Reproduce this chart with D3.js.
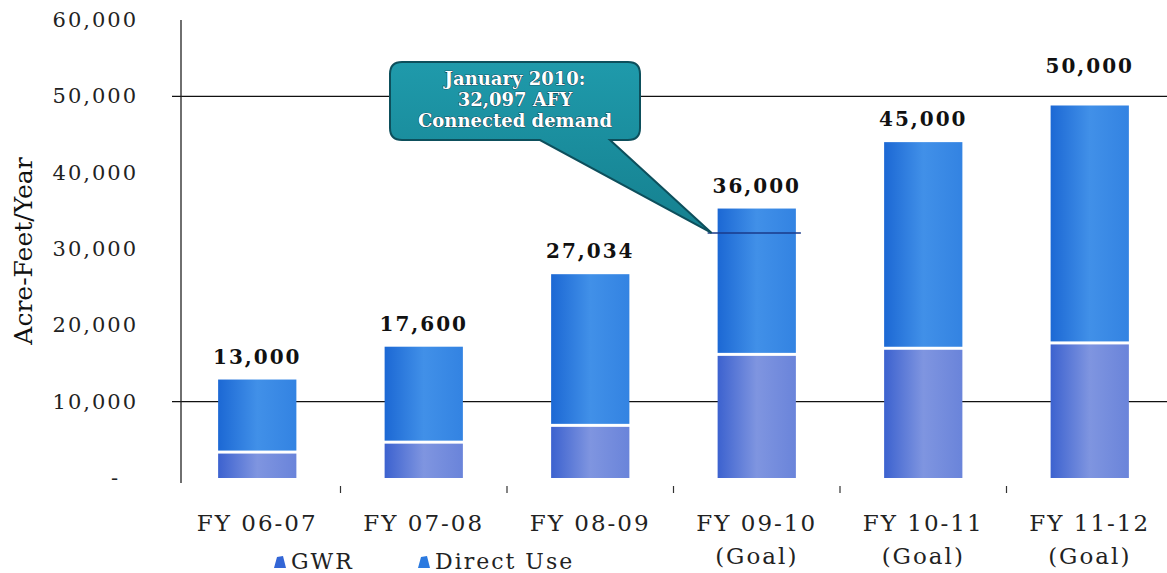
<!DOCTYPE html>
<html><head><meta charset="utf-8">
<script src="https://cdn.jsdelivr.net/npm/d3@7"></script>
<style>
html,body{margin:0;padding:0;background:#fff;}
svg{display:block;}
text{font-family:"DejaVu Serif","Liberation Serif",serif;}
</style></head>
<body><svg id="c" width="1167" height="573"></svg>
<script>
const categories = ["FY 06-07","FY 07-08","FY 08-09","FY 09-10","FY 10-11","FY 11-12"];
const subLabels = ["","","","(Goal)","(Goal)","(Goal)"];
const gwr = [3200, 4500, 6700, 16000, 16800, 17500];
const directUse = [9700, 12700, 20000, 19300, 27200, 31300];
const totalLabels = ["13,000","17,600","27,034","36,000","45,000","50,000"];
const yTicks = [0, 10000, 20000, 30000, 40000, 50000, 60000];
const yTickLabels = ["-","10,000","20,000","30,000","40,000","50,000","60,000"];
const gridValues = [10000, 50000];
const seriesNames = ["GWR","Direct Use"];
const calloutValue = 32097;
const calloutLines = ["January 2010:","32,097 AFY","Connected demand"];

const svg = d3.select("#c");
const x = d3.scaleBand().domain(categories).range([174,1173]).paddingInner(0.53).paddingOuter(0.265);
const y = d3.scaleLinear().domain([0,60000]).range([478,20]);

const defs = svg.append("defs");
function grad(id, stops){
  const g = defs.append("linearGradient").attr("id",id).attr("x1","0").attr("x2","1").attr("y1","0").attr("y2","0");
  stops.forEach(s=>g.append("stop").attr("offset",s[0]).attr("stop-color",s[1]));
}
grad("gDU",[[0,"#1c68d4"],[0.5,"#4190e8"],[1,"#3383e2"]]);
grad("gGWR",[[0,"#3c62cf"],[0.5,"#7f95e0"],[1,"#6a84da"]]);
const cg = defs.append("linearGradient").attr("id","gCall").attr("x1","0").attr("x2","0").attr("y1","0").attr("y2","1");
cg.append("stop").attr("offset",0).attr("stop-color","#1f9aab");
cg.append("stop").attr("offset",1).attr("stop-color","#15808f");

// gridlines
svg.selectAll(".grid").data(gridValues).enter().append("line")
  .attr("x1",172).attr("x2",1167).attr("y1",d=>y(d)).attr("y2",d=>y(d))
  .attr("stroke","#111").attr("stroke-width",1.4);

// y axis line
svg.append("line").attr("x1",181).attr("x2",181).attr("y1",y(60000)).attr("y2",y(0)+5)
  .attr("stroke","#222").attr("stroke-width",1.3);

// y tick labels
svg.selectAll(".yt").data(yTicks).enter().append("text")
  .attr("x",d=>d===0?120:138).attr("y",d=>y(d)+7).attr("text-anchor","end")
  .attr("font-size",21).attr("fill","#222").attr("letter-spacing","2")
  .text((d,i)=>yTickLabels[i]);

// y label
svg.append("text").attr("transform","translate(32,"+(y(30000)+2)+") rotate(-90)")
  .attr("text-anchor","middle").attr("font-size",25).attr("fill","#111")
  .text("Acre-Feet/Year");

// bars
const bw = x.bandwidth();
svg.selectAll(".gwr").data(categories).enter().append("rect")
  .attr("x",d=>x(d)).attr("width",bw)
  .attr("y",(d,i)=>y(gwr[i])).attr("height",(d,i)=>y(0)-y(gwr[i]))
  .attr("fill","url(#gGWR)");
svg.selectAll(".du").data(categories).enter().append("rect")
  .attr("x",d=>x(d)).attr("width",bw)
  .attr("y",(d,i)=>y(gwr[i]+directUse[i]))
  .attr("height",(d,i)=>y(gwr[i])-y(gwr[i]+directUse[i])-3)
  .attr("fill","url(#gDU)");

// total labels (moved above a gridline if they would sit on it)
function labelY(i){
  let ly = y(gwr[i]+directUse[i]) - 16;
  gridValues.forEach(g=>{ const gy=y(g); if (ly > gy-18 && ly < gy+14) ly = gy - 23; });
  return ly;
}
svg.selectAll(".tl").data(categories).enter().append("text")
  .attr("x",d=>x(d)+bw/2).attr("y",(d,i)=>labelY(i))
  .attr("text-anchor","middle").attr("font-size",20).attr("font-weight","bold")
  .attr("letter-spacing","2").attr("fill","#111")
  .text((d,i)=>totalLabels[i]);

// category ticks between bars
const step = x.step();
svg.selectAll(".ct").data(categories.slice(1)).enter().append("line")
  .attr("x1",d=>x(d)-(step-bw)/2).attr("x2",d=>x(d)-(step-bw)/2)
  .attr("y1",y(0)+8).attr("y2",y(0)+15).attr("stroke","#333").attr("stroke-width",1.2);

// category labels
svg.selectAll(".cl").data(categories).enter().append("text")
  .attr("x",d=>x(d)+bw/2).attr("y",531).attr("text-anchor","middle")
  .attr("font-size",23).attr("fill","#222").attr("letter-spacing","2").text(d=>d);
svg.selectAll(".cl2").data(categories).enter().append("text")
  .attr("x",d=>x(d)+bw/2).attr("y",564).attr("text-anchor","middle")
  .attr("font-size",23).attr("fill","#222").attr("letter-spacing","2")
  .text((d,i)=>subLabels[i]);

// legend
const legX = [274, 418];
seriesNames.forEach((n,i)=>{
  svg.append("path")
    .attr("d",`M${legX[i]},${568} L${legX[i]+3},${557} L${legX[i]+9},${556} L${legX[i]+12},${568} Z`)
    .attr("fill",i===0?"#3366d6":"#2b7ae0");
  svg.append("text").attr("x",legX[i]+17).attr("y",569).attr("font-size",22)
    .attr("fill","#222").attr("letter-spacing","2").text(n);
});

// callout marker line
const cat4 = categories[3];
svg.append("line").attr("x1",x(cat4)-10).attr("x2",x(cat4)+bw+5)
  .attr("y1",y(calloutValue)).attr("y2",y(calloutValue))
  .attr("stroke","#1a3a8a").attr("stroke-width",1.5);

// callout
const cx0=390, cy0=62, cw=250, ch=78;
const tipX = x(cat4)-6, tipY = y(calloutValue);
svg.append("path")
  .attr("d",`M${cx0+12},${cy0} H${cx0+cw-12} Q${cx0+cw},${cy0} ${cx0+cw},${cy0+12} V${cy0+ch-12} Q${cx0+cw},${cy0+ch} ${cx0+cw-12},${cy0+ch} H${cx0+220} L${tipX},${tipY} L${cx0+150},${cy0+ch} H${cx0+12} Q${cx0},${cy0+ch} ${cx0},${cy0+ch-12} V${cy0+12} Q${cx0},${cy0} ${cx0+12},${cy0} Z`)
  .attr("fill","url(#gCall)").attr("stroke","#0d4f5c").attr("stroke-width",2);
calloutLines.forEach((t,i)=>{
  svg.append("text").attr("x",cx0+cw/2).attr("y",cy0+23+i*21).attr("text-anchor","middle")
    .attr("font-size",18).attr("font-weight","bold").attr("fill","#fff")
    .attr("stroke","#123").attr("stroke-width",0.7).attr("paint-order","stroke")
    .attr("font-family","Liberation Serif, serif").text(t);
});
</script></body></html>
